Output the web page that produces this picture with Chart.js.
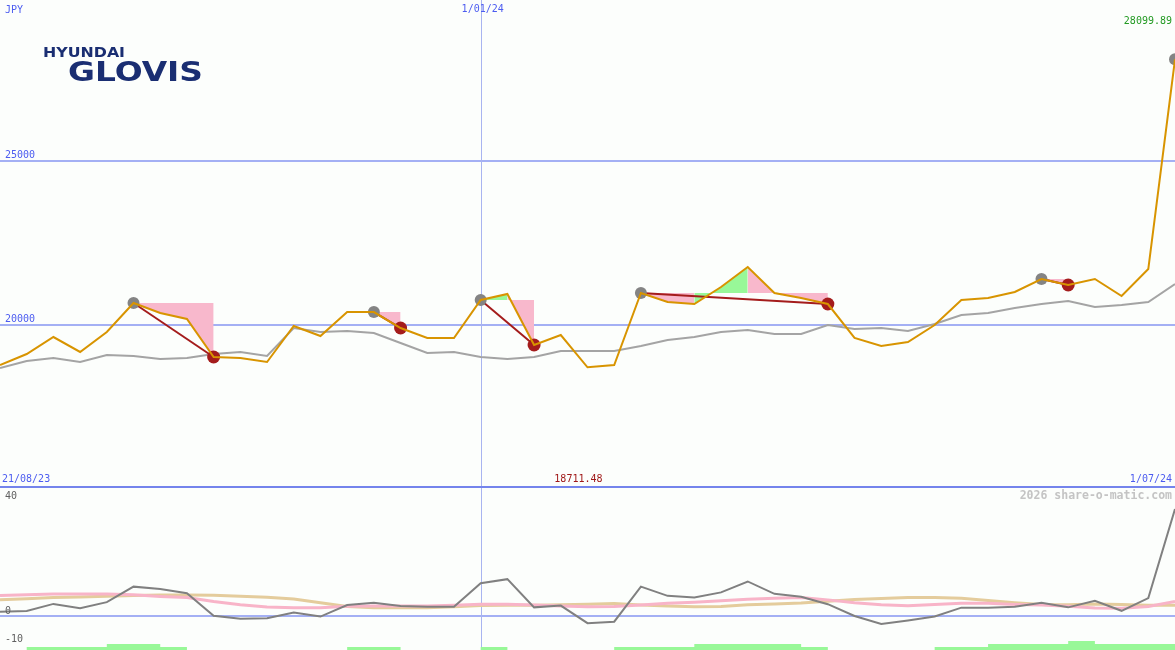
<!DOCTYPE html>
<html>
<head>
<meta charset="utf-8">
<script src="https://cdn.jsdelivr.net/npm/chart.js@4.4.1/dist/chart.umd.min.js"></script>
<style>
  html, body { margin:0; padding:0; background:#fcfefc; }
  #wrap { position:relative; width:1175px; height:650px; overflow:hidden; background:#fcfefc; }
  #mainBox { position:absolute; left:0; top:0; width:1175px; height:488px; }
  #lowBox { position:absolute; left:0; top:488px; width:1175px; height:162px; }
  .logo { position:absolute; font-family:'DejaVu Sans', sans-serif; font-weight:bold; color:#1a2e72; line-height:1; transform-origin:0 0; white-space:nowrap; }
</style>
</head>
<body>
<div id="wrap">
  <div id="mainBox"><canvas id="mainChart"></canvas></div>
  <div id="lowBox"><canvas id="lowChart"></canvas></div>
  <div class="logo" id="logo1" style="left:43px;top:45px;font-size:14px;">HYUNDAI</div>
  <div class="logo" id="logo2" style="left:68px;top:59px;font-size:26px;">GLOVIS</div>
</div>
<script>
// ---------------- DATA ----------------
const categories = ['28/08/23','4/09/23','11/09/23','18/09/23','25/09/23','2/10/23','9/10/23','16/10/23','23/10/23','30/10/23',
  '6/11/23','13/11/23','20/11/23','27/11/23','4/12/23','11/12/23','18/12/23','25/12/23','1/01/24','8/01/24',
  '15/01/24','22/01/24','29/01/24','5/02/24','12/02/24','19/02/24','26/02/24','4/03/24','11/03/24','18/03/24',
  '25/03/24','1/04/24','8/04/24','15/04/24','22/04/24','29/04/24','6/05/24','13/05/24','20/05/24','27/05/24',
  '3/06/24','10/06/24','17/06/24','24/06/24','1/07/24'];
const rangeStartLabel = '21/08/23';
const currencyLabel = 'JPY';
const markerDateIndex = 18;

const price = [18780, 19116, 19634, 19177, 19787, 20671, 20366, 20183, 19024, 18994,
  18872, 19970, 19665, 20396, 20396, 19909, 19604, 19604, 20762, 20945,
  19390, 19695, 18711.48, 18780, 20976, 20701, 20640, 21159, 21768, 20976,
  20823, 20640, 19604, 19360, 19482, 20000, 20762, 20823, 21006, 21402,
  21220, 21402, 20884, 21707, 28099.89];
const movingAvg = [18689, 18902, 18994, 18872, 19085, 19055, 18963, 18994, 19116, 19177,
  19055, 19909, 19787, 19817, 19756, 19451, 19146, 19177, 19024, 18963,
  19024, 19207, 19207, 19207, 19360, 19543, 19634, 19787, 19848, 19726,
  19726, 20000, 19878, 19909, 19817, 20030, 20305, 20366, 20518, 20640,
  20732, 20549, 20610, 20701, 21250];
const peakIdx = [5, 14, 18, 24, 39, 44];
const troughIdx = [8, 15, 20, 31, 40];
const swingPairs = [[5, 8], [14, 15], [18, 20], [24, 31], [39, 40]];
const priceTicks = [20000, 25000];

const momentum = [1.5, 1.7, 4.2, 2.7, 4.8, 10.2, 9.4, 7.9, 0.1, -1.0,
  -0.8, 1.2, -0.2, 3.8, 4.6, 3.5, 3.2, 3.2, 11.4, 12.8,
  3.0, 3.6, -2.5, -2.0, 10.2, 7.0, 6.4, 8.2, 12.0, 7.7,
  6.7, 4.1, 0.0, -2.8, -1.6, -0.2, 2.9, 2.9, 3.2, 4.6,
  3.0, 5.3, 1.8, 6.2, 37.2];
const pinkSignal = [7.1, 7.4, 7.6, 7.6, 7.6, 7.4, 6.8, 6.4, 5.0, 3.9,
  3.1, 2.9, 2.9, 3.4, 3.5, 3.5, 3.5, 3.7, 4.1, 4.1,
  3.8, 3.5, 3.2, 3.3, 3.8, 4.4, 4.8, 5.3, 5.8, 6.2,
  6.4, 5.6, 4.6, 3.9, 3.6, 4.0, 4.4, 4.4, 4.0, 3.8,
  3.4, 2.8, 2.7, 3.3, 5.0];
const tanSignal = [5.6, 6.0, 6.4, 6.6, 6.9, 7.1, 7.3, 7.3, 7.2, 6.9,
  6.5, 5.9, 4.6, 3.3, 2.9, 2.9, 2.9, 3.2, 3.6, 3.7,
  3.7, 3.9, 4.1, 4.3, 3.8, 3.5, 3.2, 3.3, 3.9, 4.2,
  4.5, 5.1, 5.7, 6.1, 6.4, 6.4, 6.2, 5.4, 4.6, 4.0,
  3.9, 4.2, 4.0, 3.7, 3.7];
const volumeLevel = [0, 1, 1, 1, 2, 2, 1, 0, 0, 0,
  0, 0, 0, 1, 1, 0, 0, 0, 1, 0,
  0, 0, 0, 1, 1, 1, 2, 2, 2, 2,
  1, 0, 0, 0, 0, 1, 1, 2, 2, 2,
  3, 2, 2, 2, 2];
const lowerTicks = [-10, 0, 40];
const lowerGridTicks = [0];
const watermark = '2026 share-o-matic.com';

// ---------------- STYLE ----------------
const C = {
  orange:'#d89400', ma:'#a4a4a4', red:'#a41c1c', peak:'#848484',
  pink:'#f8b8cc', green:'#98f898', grid:'#a4b0f4', vline:'#a8b4f0', sep:'#7484ec',
  blue:'#4c5cf0', green2:'#229a22', darkred:'#a01818', tick:'#606060', wm:'#c4c4c4',
  mom:'#808080', pinkL:'#f8b4c8', tanL:'#e4cc9c', vol:'#98f898'
};
const MONO = "'DejaVu Sans Mono', monospace";

Chart.defaults.animation = false;
Chart.defaults.events = [];

// grid drawing helper (uses the chart's own scales)
function gridPlugin(hTicks, hColor, vIndex) {
  return {
    id: 'gridLines',
    beforeDatasetsDraw(chart) {
      const { ctx, chartArea: a, scales } = chart;
      ctx.save();
      ctx.strokeStyle = hColor;
      ctx.lineWidth = 2;
      hTicks.forEach(v => {
        const y = Math.round(scales.y.getPixelForValue(v));
        ctx.beginPath(); ctx.moveTo(a.left, y); ctx.lineTo(a.right, y); ctx.stroke();
      });
      ctx.strokeStyle = C.vline;
      ctx.lineWidth = 1;
      const x = Math.round(scales.x.getPixelForValue(vIndex)) + 0.5;
      ctx.beginPath(); ctx.moveTo(x, a.top); ctx.lineTo(x, a.bottom); ctx.stroke();
      ctx.restore();
    }
  };
}

// ---------------- MAIN CHART ----------------
const datasets = [];
datasets.push({ label:'price', data: price, borderColor: C.orange, borderWidth: 2, pointRadius: 0, fill: false, tension: 0 });
datasets.push({ label:'troughs', data: categories.map((_, i) => troughIdx.includes(i) ? price[i] : null),
  showLine: false, pointRadius: 6.5, pointBackgroundColor: C.red, pointBorderWidth: 0 });
datasets.push({ label:'peaks', data: categories.map((_, i) => peakIdx.includes(i) ? price[i] : null),
  showLine: false, pointRadius: 6, pointBackgroundColor: C.peak, pointBorderWidth: 0 });
swingPairs.forEach(([p, t]) => {
  datasets.push({ label:'swing', data: categories.map((_, i) => (i === p || i === t) ? price[i] : null),
    spanGaps: true, borderColor: C.red, borderWidth: 2, pointRadius: 0, fill: false });
});
datasets.push({ label:'avg', data: movingAvg, borderColor: C.ma, borderWidth: 2, pointRadius: 0, fill: false });
swingPairs.forEach(([p, t]) => {
  datasets.push({ label:'zone', data: categories.map((_, i) => (i >= p && i <= t) ? price[i] : null),
    borderWidth: 0, borderColor: 'rgba(0,0,0,0)', pointRadius: 0, backgroundColor: C.pink,
    fill: { value: price[p] },
    segment: { backgroundColor: ctx => ctx.p1.parsed.y > ctx.p0.parsed.y ? C.green : C.pink } });
});

const mainText = {
  id: 'mainText',
  afterDraw(chart) {
    const { ctx, chartArea: a, scales } = chart;
    ctx.save();
    ctx.font = '10px ' + MONO;
    ctx.textBaseline = 'middle';
    // y tick labels
    ctx.fillStyle = C.blue;
    ctx.textAlign = 'left';
    priceTicks.forEach(v => ctx.fillText(String(v), a.left + 5, scales.y.getPixelForValue(v) - 6));
    ctx.fillText(currencyLabel, a.left + 5, 10);
    ctx.textAlign = 'center';
    ctx.fillText(categories[markerDateIndex], scales.x.getPixelForValue(markerDateIndex) + 2, 9);
    ctx.textAlign = 'right';
    ctx.fillStyle = C.green2;
    ctx.fillText(price[price.length - 1].toFixed(2), a.right - 3, 21);
    // bottom labels
    ctx.fillStyle = C.blue;
    ctx.textAlign = 'left';
    ctx.fillText(rangeStartLabel, a.left + 2, a.bottom - 9);
    ctx.textAlign = 'right';
    ctx.fillText(categories[categories.length - 1], a.right - 3, a.bottom - 9);
    const minV = Math.min(...price);
    const minI = price.indexOf(minV);
    ctx.fillStyle = C.darkred;
    ctx.fillText(minV.toFixed(2), scales.x.getPixelForValue(minI) + 15, a.bottom - 9);
    // separator
    ctx.strokeStyle = C.sep;
    ctx.lineWidth = 2;
    ctx.beginPath();
    ctx.moveTo(a.left, a.bottom - 1);
    ctx.lineTo(a.right, a.bottom - 1);
    ctx.stroke();
    ctx.restore();
  }
};

new Chart(document.getElementById('mainChart'), {
  type: 'line',
  data: { labels: categories, datasets },
  options: {
    responsive: true, maintainAspectRatio: false,
    layout: { padding: 0, autoPadding: false },
    plugins: { legend: { display: false }, tooltip: { enabled: false } },
    scales: {
      x: { type: 'category', offset: false, display: false },
      y: { type: 'linear', min: 15030, max: 29910, display: false }
    }
  },
  plugins: [gridPlugin(priceTicks, C.grid, markerDateIndex), mainText]
});

// ---------------- LOWER CHART ----------------
const lowText = {
  id: 'lowText',
  afterDraw(chart) {
    const { ctx, chartArea: a, scales } = chart;
    ctx.save();
    ctx.textBaseline = 'middle';
    ctx.font = '10px ' + MONO;
    ctx.fillStyle = C.tick;
    ctx.textAlign = 'left';
    lowerTicks.forEach(v => ctx.fillText(String(v), a.left + 5, scales.y.getPixelForValue(v) - 5));
    ctx.font = 'bold 11.5px ' + MONO;
    ctx.textAlign = 'right';
    ctx.fillStyle = C.wm;
    ctx.fillText(watermark, a.right - 3, a.top + 8);
    ctx.restore();
  }
};

new Chart(document.getElementById('lowChart'), {
  type: 'line',
  data: { labels: categories, datasets: [
    { label:'momentum', data: momentum, borderColor: C.mom, borderWidth: 2, pointRadius: 0, fill: false },
    { label:'signal1', data: pinkSignal, borderColor: C.pinkL, borderWidth: 3, pointRadius: 0, fill: false },
    { label:'signal2', data: tanSignal, borderColor: C.tanL, borderWidth: 3, pointRadius: 0, fill: false },
    { label:'volume', data: volumeLevel, yAxisID: 'yb', stepped: 'before', borderWidth: 0,
      borderColor: 'rgba(0,0,0,0)', backgroundColor: C.vol, pointRadius: 0, fill: 'origin' }
  ]},
  options: {
    responsive: true, maintainAspectRatio: false,
    layout: { padding: 0, autoPadding: false },
    plugins: { legend: { display: false }, tooltip: { enabled: false } },
    scales: {
      x: { type: 'category', offset: false, display: false },
      y: { type: 'linear', min: -11.83, max: 44.5, display: false },
      yb: { type: 'linear', min: 0, max: 54, display: false }
    }
  },
  plugins: [gridPlugin(lowerGridTicks, C.grid, markerDateIndex), lowText]
});

// fit logo text widths
function fitLogo(id, w) {
  const el = document.getElementById(id);
  const cur = el.getBoundingClientRect().width;
  el.style.transform = 'scaleX(' + (w / cur) + ')';
}
fitLogo('logo1', 82);
fitLogo('logo2', 135);
</script>
</body>
</html>
